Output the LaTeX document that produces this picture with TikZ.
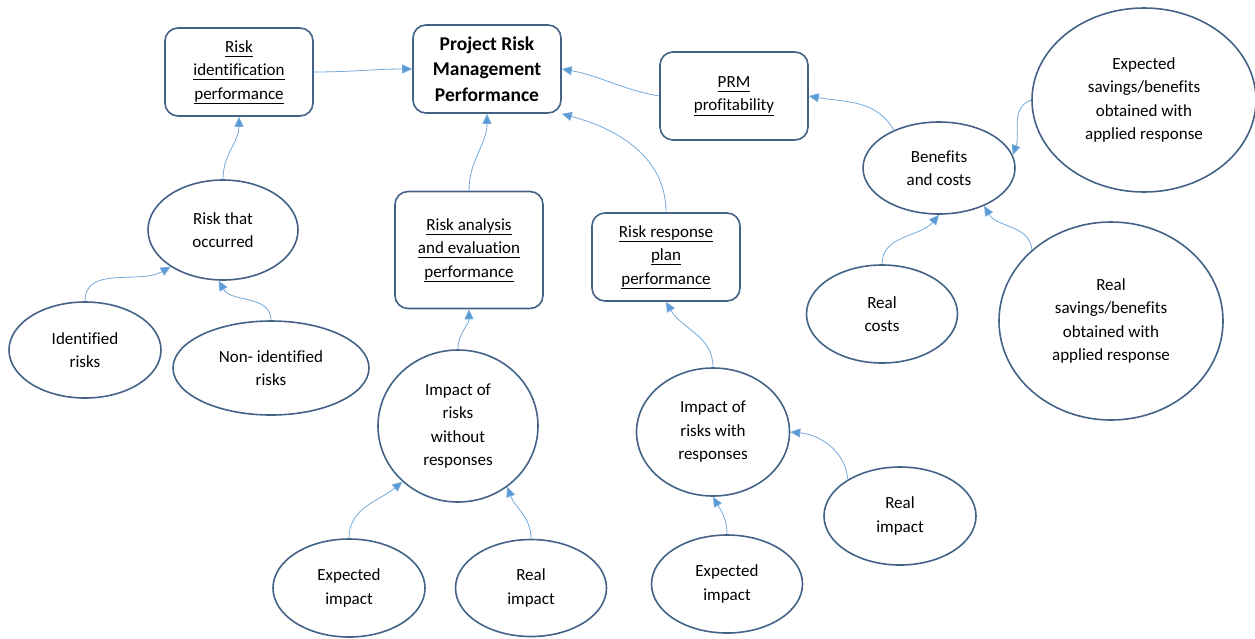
\documentclass[tikz,border=0pt]{standalone}
\usepackage{fontspec}
\setmainfont{Carlito}[Ligatures=NoCommon]
\usetikzlibrary{shapes.geometric,arrows.meta}

\definecolor{edgeblue}{RGB}{68,98,135}
\definecolor{arrowblue}{RGB}{91,155,213}
\newcommand{\ulin}[1]{\underline{#1\vphantom{p}}}

\begin{document}
\begin{tikzpicture}[x=1pt,y=1pt,
    perf/.style={draw=edgeblue,line width=1.6pt,rounded corners=13pt,align=center,
        minimum width=148pt,minimum height=88pt,inner sep=0pt,font=\fontsize{17}{23.5}\selectfont},
    bubble/.style={draw=edgeblue,line width=1.6pt,ellipse,align=center,inner sep=0pt,
        font=\fontsize{17}{23.5}\selectfont},
    link/.style={draw=arrowblue!85,line width=0.8pt,-{Triangle[length=10pt,width=9pt,fill=arrowblue]}}]
    \useasboundingbox (0,0) rectangle (1255,-638);
    %% Performance boxes
    \node[perf] (rid) at (239,-72) {\ulin{Risk}\\\ulin{identification}\\\ulin{performance}};
    \node[perf,font=\fontsize{19.5}{25.5}\selectfont\bfseries] (prmp) at (487,-69) {Project Risk\\Management\\Performance};
    \node[perf] (prf) at (734,-96) {\ulin{PRM}\\\ulin{profitability}};
    \node[perf,minimum height=117pt] (ana) at (469,-250) {\ulin{Risk analysis}\\\ulin{and evaluation}\\\ulin{performance}};
    \node[perf] (rrp) at (666,-257) {\ulin{Risk response}\\\ulin{plan}\\\ulin{performance}};
    %% Left branch
    \node[bubble,minimum width=150pt,minimum height=100pt] (occ) at (223,-230) {Risk that\\occurred};
    \node[bubble,minimum width=152pt,minimum height=96pt] (idr) at (85,-350) {Identified\\risks};
    \node[bubble,minimum width=196pt,minimum height=94pt] (nidr) at (271,-368) {Non- identified\\risks};
    %% Middle branch
    \node[bubble,minimum width=160pt,minimum height=152pt] (iwo) at (458,-426) {Impact of\\risks\\without\\responses};
    \node[bubble,minimum width=152pt,minimum height=98pt] (exl) at (349,-588) {Expected\\impact};
    \node[bubble,minimum width=151pt,minimum height=97pt] (rem) at (531,-588) {Real\\impact};
    \node[bubble,minimum width=153pt,minimum height=128pt] (iwr) at (713,-432) {Impact of\\risks with\\responses};
    \node[bubble,minimum width=151pt,minimum height=98pt] (exr) at (727,-584) {Expected\\impact};
    \node[bubble,minimum width=152pt,minimum height=98pt] (rei) at (900,-516) {Real\\impact};
    %% Right branch
    \node[bubble,minimum width=152pt,minimum height=92pt] (bac) at (939,-168) {Benefits\\and costs};
    \node[bubble,minimum width=224pt,minimum height=184pt] (esb) at (1144,-100) {Expected\\savings/benefits\\obtained with\\applied response};
    \node[bubble,minimum width=151pt,minimum height=98pt] (rco) at (882,-314) {Real\\costs};
    \node[bubble,minimum width=224pt,minimum height=198pt] (rsb) at (1111,-321) {Real\\savings/benefits\\obtained with\\applied response};
    %% Arrows
    \draw[link] (rid.east) to[out=0,in=180] (prmp.west);
    \draw[link] (occ.north) to[out=90,in=-90] (rid.south);
    \draw[link] (idr.north) to[out=90,in=210] (occ.215);
    \draw[link] (nidr.north) to[out=90,in=-60] (occ.265);
    \draw[link] (ana.north) to[out=90,in=-90] (prmp.south);
    \draw[link] (iwo.north) to[out=90,in=-90] (ana.south);
    \draw[link] (exl.north) to[out=90,in=220] (iwo.225);
    \draw[link] (rem.north) to[out=90,in=-70] (iwo.309);
    \draw[link] (rrp.north) to[out=90,in=-15] (prmp.south east);
    \draw[link] (iwr.north) to[out=90,in=-60] (rrp.south);
    \draw[link] (exr.north) to[out=90,in=-60] (iwr.south);
    \draw[link] (rei.145) to[out=95,in=-5] (iwr.east);
    \draw[link] (prf.west) to[out=170,in=-10] (prmp.east);
    \draw[link] (bac.140) to[out=120,in=-10] (prf.east);
    \draw[link] (esb.west) to[out=200,in=70] (bac.10);
    \draw[link] (rco.north) to[out=90,in=230] (bac.south);
    \draw[link] (rsb.138) to[out=95,in=-60] (bac.320);
\end{tikzpicture}
\end{document}
